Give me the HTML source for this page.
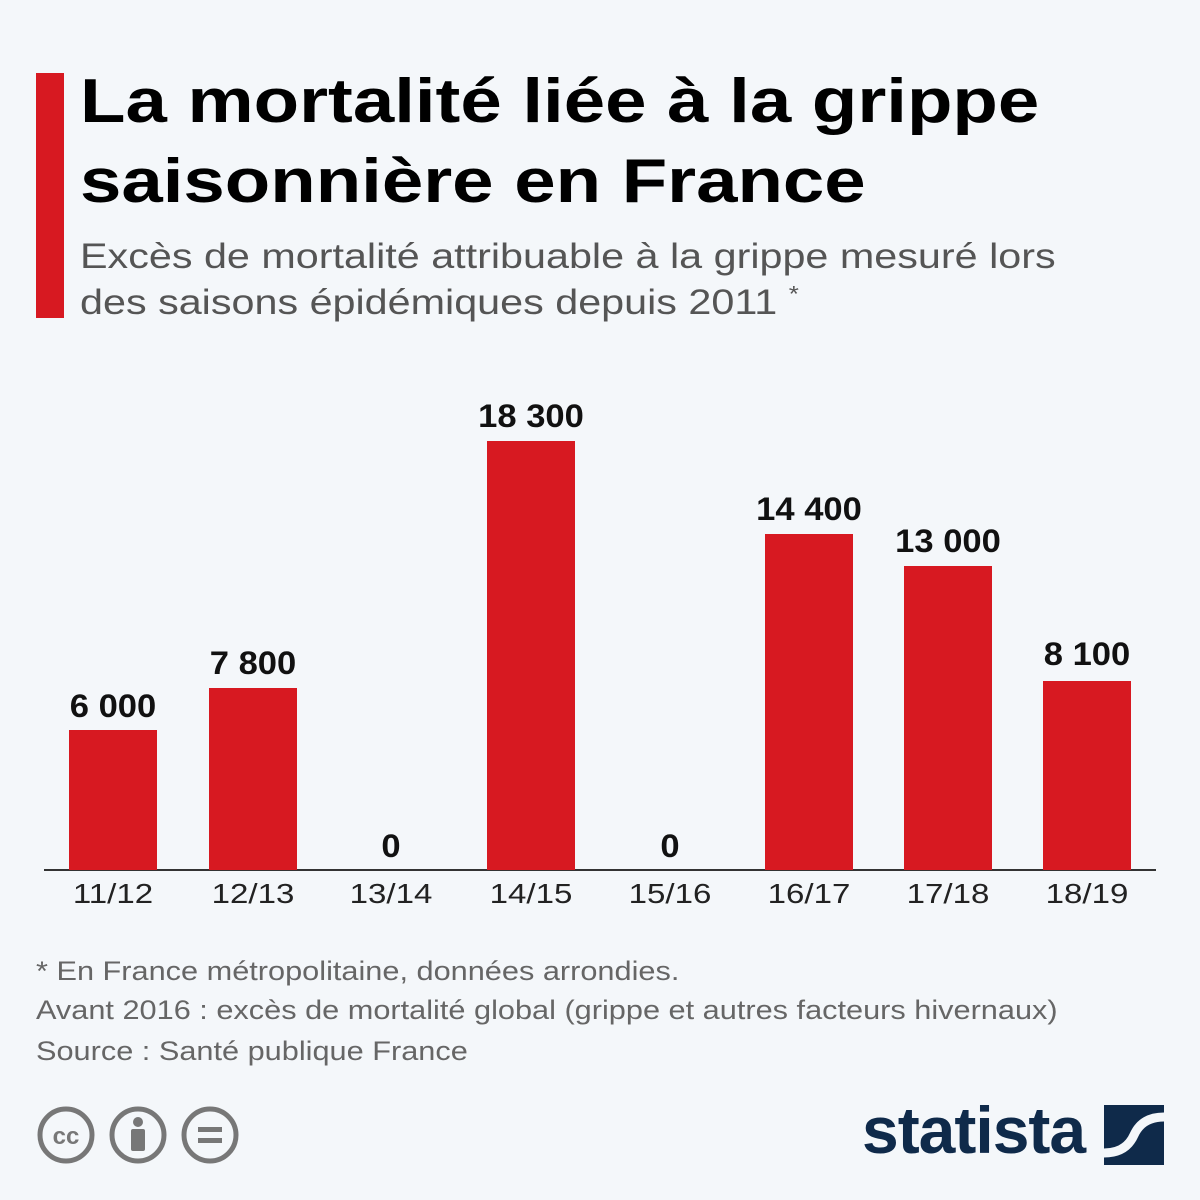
<!DOCTYPE html>
<html><head><meta charset="utf-8"><style>
body{margin:0;width:1200px;height:1200px;background:#f4f7fa;font-family:"Liberation Sans","DejaVu Sans",sans-serif;position:relative;overflow:hidden}
.a{position:absolute;white-space:nowrap;transform-origin:0 0}
.bar{position:absolute;background:#d71921;width:88px}
.v{position:absolute;width:140px;text-align:center;font-size:32px;font-weight:bold;color:#111;transform:scaleX(1.08)}
.c{position:absolute;width:140px;text-align:center;font-size:28px;color:#222;top:878px;transform:scaleX(1.18)}
.f{font-size:27px;color:#666;transform:scaleX(1.137)}
</style></head><body>
<div class="a" style="left:36px;top:73px;width:28px;height:245px;background:#d71921"></div>
<div class="a" style="left:80px;top:62px;font-size:62px;font-weight:bold;color:#000;line-height:80px;transform:scaleX(1.2)">La mortalité liée à la grippe<br>saisonnière en France</div>
<div class="a" style="left:80px;top:234px;font-size:35px;color:#555;line-height:46px;transform:scaleX(1.18)">Excès de mortalité attribuable à la grippe mesuré lors<br>des saisons épidémiques depuis 2011 <sup style="font-size:22px;line-height:0">*</sup></div>
<div class="a" style="left:44px;top:869px;width:1112px;height:2px;background:#333"></div>
<div class="bar" style="left:69px;top:730px;height:140px"></div>
<div class="bar" style="left:209px;top:688px;height:182px"></div>
<div class="bar" style="left:487px;top:441px;height:429px"></div>
<div class="bar" style="left:765px;top:534px;height:336px"></div>
<div class="bar" style="left:904px;top:566px;height:304px"></div>
<div class="bar" style="left:1043px;top:681px;height:189px"></div>
<div class="v" style="left:43px;top:688px">6 000</div>
<div class="v" style="left:183px;top:645px">7 800</div>
<div class="v" style="left:321px;top:828px">0</div>
<div class="v" style="left:461px;top:398px">18 300</div>
<div class="v" style="left:600px;top:828px">0</div>
<div class="v" style="left:739px;top:491px">14 400</div>
<div class="v" style="left:878px;top:523px">13 000</div>
<div class="v" style="left:1017px;top:636px">8 100</div>
<div class="c" style="left:43px">11/12</div>
<div class="c" style="left:183px">12/13</div>
<div class="c" style="left:321px">13/14</div>
<div class="c" style="left:461px">14/15</div>
<div class="c" style="left:600px">15/16</div>
<div class="c" style="left:739px">16/17</div>
<div class="c" style="left:878px">17/18</div>
<div class="c" style="left:1017px">18/19</div>
<div class="a f" style="left:36px;top:956px">* En France métropolitaine, données arrondies.</div>
<div class="a f" style="left:36px;top:995px">Avant 2016 : excès de mortalité global (grippe et autres facteurs hivernaux)</div>
<div class="a f" style="left:36px;top:1036px">Source : Santé publique France</div>
<svg class="a" style="left:30px;top:1100px" width="220" height="70">
<g fill="none" stroke="#777" stroke-width="5">
<circle cx="36" cy="35" r="26"/><circle cx="108" cy="35" r="26"/><circle cx="180" cy="35" r="26"/></g>
<text x="36" y="44" font-size="24" font-weight="bold" fill="#777" text-anchor="middle" font-family="Liberation Sans">cc</text>
<circle cx="108" cy="22" r="5" fill="#777"/><rect x="101" y="29" width="14" height="22" rx="2" fill="#777"/>
<rect x="168" y="27" width="24" height="5" fill="#777"/><rect x="168" y="38" width="24" height="5" fill="#777"/>
</svg>
<div class="a" style="left:862px;top:1092px;font-size:66px;font-weight:bold;color:#0f2a4a;letter-spacing:-1px">statista</div>
<svg class="a" style="left:1104px;top:1105px" width="60" height="60">
<rect width="60" height="60" fill="#0f2a4a"/>
<path d="M0 48Q22 48 30 30T60 12" fill="none" stroke="#f4f7fa" stroke-width="9"/>
</svg>
</body></html>
